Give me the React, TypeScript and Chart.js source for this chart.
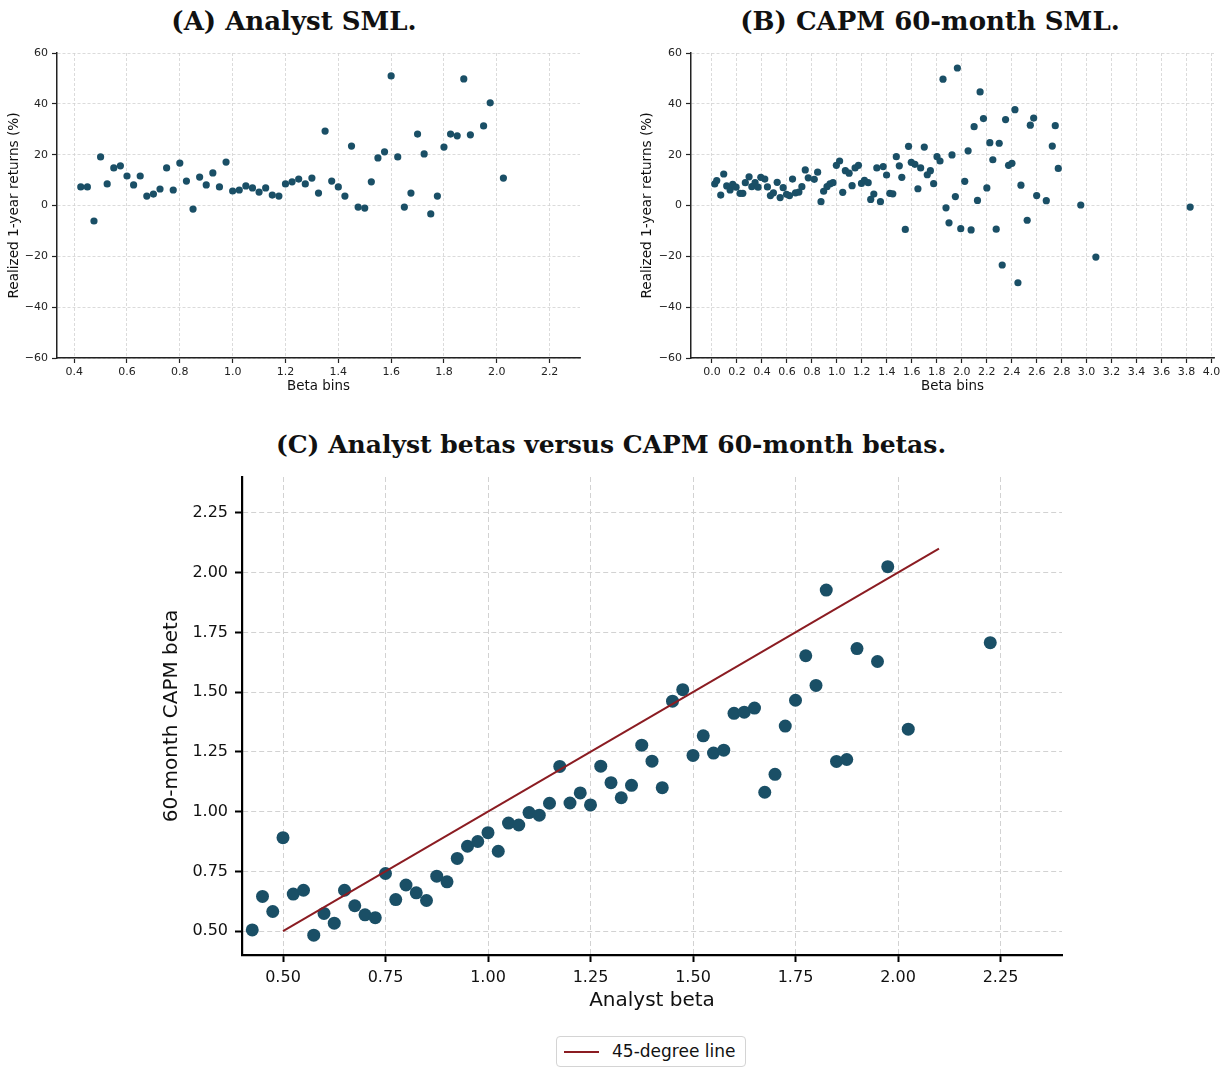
import React, { useEffect, useRef } from "react";
import { Chart, registerables } from "chart.js";

Chart.register(...registerables);

// ---------- Data ----------
const A_BETA = [0.425, 0.45, 0.475, 0.5, 0.525, 0.55, 0.575, 0.6, 0.625, 0.65, 0.675, 0.7, 0.725, 0.75, 0.775, 0.8, 0.825, 0.85, 0.875, 0.9, 0.925, 0.95, 0.975, 1.0, 1.025, 1.05, 1.075, 1.1, 1.125, 1.15, 1.175, 1.2, 1.225, 1.25, 1.275, 1.3, 1.325, 1.35, 1.375, 1.4, 1.425, 1.45, 1.475, 1.5, 1.525, 1.55, 1.575, 1.6, 1.625, 1.65, 1.675, 1.7, 1.725, 1.75, 1.775, 1.8, 1.825, 1.85, 1.875, 1.9, 1.95, 1.975, 2.025];
const A_RET = [7.3, 7.3, -6.1, 19.1, 8.5, 14.8, 15.6, 11.6, 8.1, 11.6, 3.7, 4.5, 6.5, 14.8, 6.1, 16.7, 9.6, -1.4, 11.2, 8.1, 12.8, 7.3, 17.1, 5.7, 6.1, 7.7, 6.9, 5.3, 6.9, 4.1, 3.7, 8.5, 9.3, 10.4, 8.5, 10.8, 4.9, 29.3, 9.6, 7.3, 3.7, 23.4, -0.6, -1.0, 9.3, 18.7, 21.1, 51.0, 19.1, -0.6, 4.9, 28.1, 20.3, -3.3, 3.7, 23.0, 28.1, 27.4, 49.8, 27.8, 31.3, 40.4, 10.8];

const B_BETA = [0.022, 0.038, 0.070, 0.094, 0.118, 0.145, 0.166, 0.193, 0.225, 0.247, 0.267, 0.297, 0.319, 0.345, 0.369, 0.391, 0.423, 0.444, 0.468, 0.492, 0.522, 0.546, 0.570, 0.597, 0.621, 0.645, 0.669, 0.696, 0.720, 0.747, 0.771, 0.819, 0.846, 0.873, 0.894, 0.921, 0.945, 0.969, 0.996, 1.022, 1.047, 1.068, 1.098, 1.122, 1.146, 1.173, 1.197, 1.221, 1.251, 1.271, 1.296, 1.320, 1.349, 1.371, 1.398, 1.424, 1.448, 1.476, 1.500, 1.520, 1.548, 1.574, 1.596, 1.625, 1.649, 1.671, 1.700, 1.724, 1.749, 1.775, 1.802, 1.826, 1.850, 1.874, 1.898, 1.922, 1.949, 1.965, 1.992, 2.024, 2.051, 2.075, 2.099, 2.126, 2.147, 2.174, 2.201, 2.225, 2.249, 2.276, 2.300, 2.324, 2.351, 2.375, 2.402, 2.426, 2.450, 2.474, 2.524, 2.549, 2.576, 2.600, 2.677, 2.725, 2.749, 2.773, 2.953, 3.074, 3.829];
const B_RET = [8.5, 9.8, 4.1, 12.4, 7.7, 6.1, 8.3, 7.2, 4.8, 4.8, 9.0, 11.3, 7.4, 9.0, 7.2, 11.1, 10.4, 7.3, 3.9, 5.0, 9.1, 3.1, 7.0, 4.4, 3.9, 10.4, 5.0, 5.3, 7.4, 14.0, 10.9, 10.3, 13.1, 1.5, 5.6, 7.4, 8.5, 9.0, 15.8, 17.5, 5.2, 13.7, 12.7, 7.8, 14.8, 15.8, 8.7, 9.9, 9.0, 2.4, 4.5, 14.8, 1.5, 15.3, 12.0, 4.8, 4.6, 19.2, 15.6, 11.1, -9.4, 23.3, 17.0, 16.2, 6.6, 14.8, 23.0, 12.1, 13.7, 8.6, 19.2, 17.5, 49.7, -0.9, -6.8, 19.9, 3.5, 54.1, -9.1, 9.5, 21.5, -9.6, 31.0, 2.0, 44.7, 34.2, 6.9, 24.7, 18.0, -9.3, 24.5, -23.4, 33.8, 15.8, 16.6, 37.7, -30.4, 8.0, -5.8, 31.6, 34.4, 3.9, 1.9, 23.4, 31.4, 14.6, 0.2, -20.3, -0.6];

const C_ANALYST = [0.425, 0.45, 0.475, 0.5, 0.525, 0.55, 0.575, 0.6, 0.625, 0.65, 0.675, 0.7, 0.725, 0.75, 0.775, 0.8, 0.825, 0.85, 0.875, 0.9, 0.925, 0.95, 0.975, 1.0, 1.025, 1.05, 1.075, 1.1, 1.125, 1.15, 1.175, 1.2, 1.225, 1.25, 1.275, 1.3, 1.325, 1.35, 1.375, 1.4, 1.425, 1.45, 1.475, 1.5, 1.525, 1.55, 1.575, 1.6, 1.625, 1.65, 1.675, 1.7, 1.725, 1.75, 1.775, 1.8, 1.825, 1.85, 1.875, 1.9, 1.95, 1.975, 2.025, 2.225];
const C_CAPM = [0.505, 0.645, 0.582, 0.891, 0.655, 0.671, 0.483, 0.574, 0.533, 0.671, 0.606, 0.568, 0.556, 0.741, 0.632, 0.693, 0.660, 0.628, 0.730, 0.706, 0.804, 0.855, 0.875, 0.912, 0.834, 0.952, 0.944, 0.996, 0.985, 1.035, 1.189, 1.036, 1.078, 1.028, 1.190, 1.121, 1.058, 1.110, 1.278, 1.211, 1.100, 1.462, 1.510, 1.235, 1.317, 1.245, 1.257, 1.411, 1.416, 1.433, 1.081, 1.156, 1.358, 1.466, 1.652, 1.528, 1.927, 1.210, 1.218, 1.682, 1.628, 2.025, 1.345, 1.707];

const LINE_X = [0.5, 2.1];
const LINE_Y = [0.5, 2.1];

const AB_Y_TICKS = [-60, -40, -20, 0, 20, 40, 60];
const A_X_TICKS = [0.4, 0.6, 0.8, 1.0, 1.2, 1.4, 1.6, 1.8, 2.0, 2.2];
const B_X_TICKS = [0.0, 0.2, 0.4, 0.6, 0.8, 1.0, 1.2, 1.4, 1.6, 1.8, 2.0, 2.2, 2.4, 2.6, 2.8, 3.0, 3.2, 3.4, 3.6, 3.8, 4.0];
const C_TICKS = [0.5, 0.75, 1.0, 1.25, 1.5, 1.75, 2.0, 2.25];

const TITLE_A = "(A) Analyst SML.";
const TITLE_B = "(B) CAPM 60-month SML.";
const TITLE_C = "(C) Analyst betas versus CAPM 60-month betas.";
const Y_LABEL_AB = "Realized 1-year returns (%)";
const X_LABEL_AB = "Beta bins";
const X_LABEL_C = "Analyst beta";
const Y_LABEL_C = "60-month CAPM beta";
const LEGEND_LABEL = "45-degree line";

// ---------- Styles ----------
const TEAL = "#1a4f66";
const RED = "#8b1c22";
const GRID = "#d2d2d2";
const SANS = "'DejaVu Sans', sans-serif";

const fmtMinus = (v: number) => (v < 0 ? "\u2212" + Math.abs(v) : String(v));

function smallPanel(
  xs: number[],
  ys: number[],
  xTicks: number[],
  xmin: number,
  xmax: number,
  yWidth: number,
  padRight: number,
  yTitlePad: number
) {
  return {
    type: "scatter",
    data: {
      datasets: [
        {
          data: xs.map((x, i) => ({ x, y: ys[i] })),
          backgroundColor: TEAL,
          borderColor: TEAL,
          borderWidth: 0,
          pointRadius: 3.6,
          pointHoverRadius: 3.6,
        },
      ],
    },
    options: {
      responsive: false,
      animation: false,
      devicePixelRatio: 1,
      events: [],
      layout: { padding: { left: 0, top: 13, right: padRight, bottom: 0 } },
      plugins: { legend: { display: false }, tooltip: { enabled: false } },
      scales: {
        x: {
          type: "linear",
          min: xmin,
          max: xmax,
          afterBuildTicks: (s: any) => {
            s.ticks = xTicks.map((v) => ({ value: v }));
          },
          afterFit: (s: any) => {
            s.height = 52;
          },
          ticks: {
            callback: (v: number) => v.toFixed(1),
            font: { family: SANS, size: 11 },
            color: "#222",
            padding: 3,
            maxRotation: 0,
            autoSkip: false,
          },
          grid: { color: GRID, lineWidth: 0.8, tickColor: "#222", tickLength: 5, tickWidth: 1.2 },
          border: { color: "#222", width: 1.5, dash: [3, 2] },
          title: {
            display: true,
            text: X_LABEL_AB,
            font: { family: SANS, size: 13.4 },
            color: "#111",
            padding: { top: 0, bottom: 15 },
          },
        },
        y: {
          type: "linear",
          min: -60,
          max: 60,
          afterBuildTicks: (s: any) => {
            s.ticks = AB_Y_TICKS.map((v) => ({ value: v }));
          },
          afterFit: (s: any) => {
            s.width = yWidth;
          },
          ticks: {
            callback: (v: number) => fmtMinus(v),
            font: { family: SANS, size: 11 },
            color: "#222",
            padding: 4,
          },
          grid: { color: GRID, lineWidth: 0.8, tickColor: "#222", tickLength: 5, tickWidth: 1.2 },
          border: { color: "#222", width: 1.5, dash: [3, 2] },
          title: {
            display: true,
            text: Y_LABEL_AB,
            font: { family: SANS, size: 13.6 },
            color: "#111",
            padding: { top: yTitlePad, bottom: 0 },
          },
        },
      },
    },
  };
}

function panelC() {
  return {
    type: "scatter",
    data: {
      datasets: [
        {
          type: "line",
          label: LEGEND_LABEL,
          data: LINE_X.map((x, i) => ({ x, y: LINE_Y[i] })),
          borderColor: RED,
          backgroundColor: RED,
          borderWidth: 2,
          pointRadius: 0,
          showLine: true,
          order: 0,
        },
        {
          label: "bins",
          data: C_ANALYST.map((x, i) => ({ x, y: C_CAPM[i] })),
          backgroundColor: TEAL,
          borderColor: TEAL,
          borderWidth: 0,
          pointRadius: 6.5,
          pointHoverRadius: 6.5,
          order: 1,
        },
      ],
    },
    options: {
      responsive: false,
      animation: false,
      devicePixelRatio: 1,
      events: [],
      layout: { padding: { left: 0, top: 17, right: 18, bottom: 0 } },
      plugins: { legend: { display: false }, tooltip: { enabled: false } },
      scales: {
        x: {
          type: "linear",
          min: 0.4,
          max: 2.4,
          afterBuildTicks: (s: any) => {
            s.ticks = C_TICKS.map((v) => ({ value: v }));
          },
          afterFit: (s: any) => {
            s.height = 75;
          },
          ticks: {
            callback: (v: number) => v.toFixed(2),
            font: { family: SANS, size: 16 },
            color: "#111",
            padding: 6,
            maxRotation: 0,
            autoSkip: false,
          },
          grid: { color: GRID, lineWidth: 1, tickColor: "#000", tickLength: 7, tickWidth: 2 },
          border: { color: "#000", width: 2.2, dash: [5, 3] },
          title: {
            display: true,
            text: X_LABEL_C,
            font: { family: SANS, size: 20 },
            color: "#111",
            padding: { top: 0, bottom: 17 },
          },
        },
        y: {
          type: "linear",
          min: 0.4,
          max: 2.4,
          afterBuildTicks: (s: any) => {
            s.ticks = C_TICKS.map((v) => ({ value: v }));
          },
          afterFit: (s: any) => {
            s.width = 102;
          },
          ticks: {
            callback: (v: number) => v.toFixed(2),
            font: { family: SANS, size: 16 },
            color: "#111",
            padding: 7,
          },
          grid: { color: GRID, lineWidth: 1, tickColor: "#000", tickLength: 7, tickWidth: 2 },
          border: { color: "#000", width: 2.2, dash: [5, 3] },
          title: {
            display: true,
            text: Y_LABEL_C,
            font: { family: SANS, size: 20 },
            color: "#111",
            padding: { top: 20, bottom: 0 },
          },
        },
      },
    },
  };
}

function ChartBox(props: { left: number; top: number; width: number; height: number; make: () => any }) {
  const ref = useRef<HTMLCanvasElement | null>(null);
  useEffect(() => {
    if (!ref.current) return;
    const chart = new Chart(ref.current, props.make());
    return () => chart.destroy();
  }, []);
  return (
    <canvas
      ref={ref}
      width={props.width}
      height={props.height}
      style={{ position: "absolute", left: props.left, top: props.top, width: props.width, height: props.height }}
    />
  );
}

function Title(props: { text: string; center: number; top: number; size: number }) {
  return (
    <div
      style={{
        position: "absolute",
        left: props.center - 450,
        width: 900,
        top: props.top,
        textAlign: "center",
        fontFamily: "'DejaVu Serif', serif",
        fontWeight: "bold",
        fontSize: props.size,
        lineHeight: "30px",
        color: "#111",
        whiteSpace: "nowrap",
      }}
    >
      {props.text}
    </div>
  );
}

export default function App() {
  return (
    <div style={{ position: "absolute", left: 0, top: 0, width: 1228, height: 1068, background: "#fff", overflow: "hidden" }}>
      <Title text={TITLE_A} center={294} top={6} size={26} />
      <Title text={TITLE_B} center={930} top={6} size={26} />
      <Title text={TITLE_C} center={611} top={430} size={25} />
      <ChartBox
        left={0}
        top={40}
        width={600}
        height={370}
        make={() => smallPanel(A_BETA, A_RET, A_X_TICKS, 0.335, 2.315, 57, 20, 6)}
      />
      <ChartBox
        left={621}
        top={40}
        width={607}
        height={370}
        make={() => smallPanel(B_BETA, B_RET, B_X_TICKS, -0.168, 4.02, 70, 14, 18)}
      />
      <ChartBox left={140} top={460} width={940} height={570} make={panelC} />
      <div
        style={{
          position: "absolute",
          left: 556,
          top: 1036,
          width: 190,
          height: 31,
          boxSizing: "border-box",
          border: "1px solid #d4d4d4",
          borderRadius: 4,
          background: "#fff",
        }}
      >
        <div style={{ position: "absolute", left: 7, top: 14, width: 35, height: 2, background: RED }} />
        <span
          style={{
            position: "absolute",
            left: 55,
            top: 0,
            lineHeight: "29px",
            fontFamily: SANS,
            fontSize: 17,
            color: "#111",
            whiteSpace: "nowrap",
          }}
        >
          {LEGEND_LABEL}
        </span>
      </div>
    </div>
  );
}
